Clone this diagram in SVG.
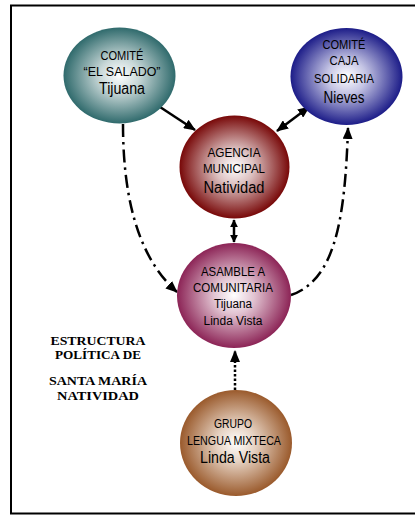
<svg xmlns="http://www.w3.org/2000/svg" width="415" height="517" viewBox="0 0 415 517">
<defs>
<radialGradient id="gTeal" cx="50%" cy="50%" r="50%"><stop offset="0" stop-color="#ffffff"/><stop offset="0.35" stop-color="#c9d8d8"/><stop offset="1" stop-color="#2f6a6c"/></radialGradient>
<radialGradient id="gBlue" cx="50%" cy="50%" r="50%"><stop offset="0" stop-color="#ffffff"/><stop offset="0.35" stop-color="#c4c4e4"/><stop offset="1" stop-color="#1c1c88"/></radialGradient>
<radialGradient id="gRed" cx="50%" cy="50%" r="50%"><stop offset="0" stop-color="#ffffff"/><stop offset="0.35" stop-color="#dcc0c0"/><stop offset="1" stop-color="#780808"/></radialGradient>
<radialGradient id="gMag" cx="50%" cy="50%" r="50%"><stop offset="0" stop-color="#ffffff"/><stop offset="0.35" stop-color="#e2c4d2"/><stop offset="1" stop-color="#8c2456"/></radialGradient>
<radialGradient id="gBrown" cx="50%" cy="50%" r="50%"><stop offset="0" stop-color="#ffffff"/><stop offset="0.35" stop-color="#e6d2c2"/><stop offset="1" stop-color="#9a5a2c"/></radialGradient>
<marker id="ah" viewBox="0 0 12 10" refX="11" refY="5" markerWidth="12" markerHeight="10" markerUnits="userSpaceOnUse" orient="auto-start-reverse"><path d="M0,0 L12,5 L0,10 Z" fill="#000"/></marker>
<marker id="ahs" viewBox="0 0 10 10" refX="9" refY="5" markerWidth="8" markerHeight="9" markerUnits="userSpaceOnUse" orient="auto-start-reverse"><path d="M0,0 L10,5 L0,10 Z" fill="#000"/></marker>
</defs>
<style>
.n{font-family:"Liberation Sans",Arial,sans-serif;text-anchor:middle;fill:#000}
.s{font-size:12.5px}
.b{font-size:16px}
.t{font-family:"Liberation Serif","Times New Roman",serif;font-weight:bold;font-size:13px;text-anchor:middle;fill:#000}
.c{fill:none;stroke:#000;stroke-width:2.5}
.dd{stroke-dasharray:13 5 2.5 5}
</style>
<rect x="11" y="5.5" width="420" height="508" fill="#fff" stroke="#000" stroke-width="2"/>
<g id="connectors">
<path class="c" d="M160,107 L195,130" marker-end="url(#ah)"/>
<path class="c" d="M277,131 L309,107" marker-start="url(#ah)" marker-end="url(#ah)"/>
<path class="c" d="M234,220 L234,242" stroke-width="2" marker-start="url(#ahs)" marker-end="url(#ahs)"/>
<path class="c dd" d="M123,124 C123,190 135,255 177,292" marker-end="url(#ah)"/>
<path class="c dd" d="M291,295 C335,280 345,220 348,128" marker-end="url(#ah)"/>
<path class="c" d="M235,390 L235,351" stroke-dasharray="2.5 2" marker-end="url(#ah)"/>
</g>
<g id="comite-el-salado">
<ellipse cx="119.5" cy="75.5" rx="56" ry="48" fill="url(#gTeal)"/>
<text class="n s" x="122" y="60" textLength="43" lengthAdjust="spacingAndGlyphs">COMITÉ</text>
<text class="n s" x="122" y="76" textLength="77" lengthAdjust="spacingAndGlyphs">“EL SALADO”</text>
<text class="n b" x="122" y="94" textLength="46" lengthAdjust="spacingAndGlyphs">Tijuana</text>
</g>
<g id="comite-caja-solidaria">
<ellipse cx="346.5" cy="76.5" rx="56" ry="48.5" fill="url(#gBlue)"/>
<text class="n s" x="344" y="49" textLength="43" lengthAdjust="spacingAndGlyphs">COMITÉ</text>
<text class="n s" x="344" y="65" textLength="29" lengthAdjust="spacingAndGlyphs">CAJA</text>
<text class="n s" x="344" y="83" textLength="60" lengthAdjust="spacingAndGlyphs">SOLIDARIA</text>
<text class="n b" x="344" y="103" textLength="41" lengthAdjust="spacingAndGlyphs">Nieves</text>
</g>
<g id="agencia-municipal">
<ellipse cx="234.5" cy="167" rx="55" ry="51.5" fill="url(#gRed)"/>
<text class="n s" x="234" y="157" textLength="53" lengthAdjust="spacingAndGlyphs">AGENCIA</text>
<text class="n s" x="234" y="173" textLength="62" lengthAdjust="spacingAndGlyphs">MUNICIPAL</text>
<text class="n b" x="234" y="193" textLength="61" lengthAdjust="spacingAndGlyphs">Natividad</text>
</g>
<g id="asamblea-comunitaria">
<ellipse cx="234" cy="295.5" rx="57" ry="52.5" fill="url(#gMag)"/>
<text class="n s" x="233" y="276" textLength="64" lengthAdjust="spacingAndGlyphs">ASAMBLE A</text>
<text class="n s" x="233" y="292" textLength="80" lengthAdjust="spacingAndGlyphs">COMUNITARIA</text>
<text class="n s" x="233" y="308" textLength="38" lengthAdjust="spacingAndGlyphs">Tijuana</text>
<text class="n s" x="233" y="325" textLength="59" lengthAdjust="spacingAndGlyphs">Linda Vista</text>
</g>
<g id="grupo-lengua-mixteca">
<ellipse cx="236" cy="443" rx="56" ry="53" fill="url(#gBrown)"/>
<text class="n s" x="233" y="428" textLength="38" lengthAdjust="spacingAndGlyphs">GRUPO</text>
<text class="n s" x="234" y="445" textLength="94" lengthAdjust="spacingAndGlyphs">LENGUA MIXTECA</text>
<text class="n b" x="235" y="463" textLength="70" lengthAdjust="spacingAndGlyphs">Linda Vista</text>
</g>
<g id="titulo">
<text class="t" x="98" y="345" textLength="95" lengthAdjust="spacingAndGlyphs">ESTRUCTURA</text>
<text class="t" x="98" y="359" textLength="86" lengthAdjust="spacingAndGlyphs">POLÍTICA DE</text>
<text class="t" x="98" y="385" textLength="98" lengthAdjust="spacingAndGlyphs">SANTA MARÍA</text>
<text class="t" x="98" y="400" textLength="82" lengthAdjust="spacingAndGlyphs">NATIVIDAD</text>
</g>
</svg>
